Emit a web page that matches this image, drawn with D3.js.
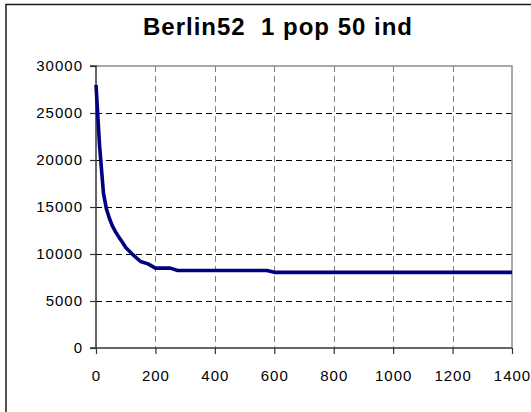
<!DOCTYPE html>
<html>
<head>
<meta charset="utf-8">
<script src="https://cdn.jsdelivr.net/npm/d3@7"></script>
<style>
  html, body { margin: 0; padding: 0; background: #fff; }
  svg { display: block; }
  text { font-family: "Liberation Sans", Arial, sans-serif; fill: #000; }
</style>
</head>
<body>
<svg id="chart" width="531" height="412"></svg>
<script>
const titleText = "Berlin52  1 pop 50 ind";
const generations = [0, 12, 25, 35, 45, 55, 65, 75, 90, 100, 125, 150, 175, 200, 250, 275, 575, 600, 1400];
const bestLength = [28000, 21500, 16500, 14800, 13800, 13000, 12400, 11900, 11200, 10700, 9900, 9200, 8950, 8500, 8500, 8250, 8250, 8050, 8050];
const xTicks = [0, 200, 400, 600, 800, 1000, 1200, 1400];
const yTicks = [0, 5000, 10000, 15000, 20000, 25000, 30000];

const svg = d3.select("#chart");
const m = { left: 96, right: 512, top: 66, bottom: 348 };

// outer chart border (extends beyond the window to the right/bottom)
svg.append("rect")
  .attr("x", 6).attr("y", 4.5)
  .attr("width", 600).attr("height", 500)
  .attr("fill", "#fff")
  .attr("stroke", "#1a1a1a").attr("stroke-width", 1.5);

// title
svg.append("text")
  .attr("x", 278).attr("y", 35)
  .attr("text-anchor", "middle")
  .attr("font-size", 24).attr("font-weight", "bold")
  .attr("letter-spacing", "1px")
  .style("white-space", "pre")
  .attr("xml:space", "preserve")
  .text(titleText);

const x = d3.scaleLinear().domain([0, 1400]).range([m.left, m.right]);
const y = d3.scaleLinear().domain([0, 30000]).range([m.bottom, m.top]);

// horizontal grid (black dashed)
svg.append("g").selectAll("line")
  .data(yTicks.filter(d => d > 0 && d < 30000))
  .join("line")
  .attr("x1", m.left).attr("x2", m.right)
  .attr("y1", d => Math.round(y(d)) + 0.5).attr("y2", d => Math.round(y(d)) + 0.5)
  .attr("stroke", "#000").attr("stroke-width", 1)
  .attr("stroke-dasharray", "6,4");

// vertical grid (gray dashed)
svg.append("g").selectAll("line")
  .data(xTicks.filter(d => d > 0 && d < 1400))
  .join("line")
  .attr("x1", d => Math.round(x(d)) + 0.5).attr("x2", d => Math.round(x(d)) + 0.5)
  .attr("y1", m.top).attr("y2", m.bottom)
  .attr("stroke", "#808080").attr("stroke-width", 1)
  .attr("stroke-dasharray", "6,4");

// top and right frame (gray)
svg.append("path")
  .attr("d", `M${m.left},${m.top}H${m.right}V${m.bottom}`)
  .attr("fill", "none").attr("stroke", "#8c8c8c").attr("stroke-width", 1.5);

// axes
const yAxis = d3.axisLeft(y).tickValues(yTicks).tickSize(6).tickPadding(7).tickFormat(d3.format("d"));
const gy = svg.append("g").attr("transform", `translate(${m.left},0)`).call(yAxis);
const xAxis = d3.axisBottom(x).tickValues(xTicks).tickSize(6).tickPadding(16).tickFormat(d3.format("d"));
const gx = svg.append("g").attr("transform", `translate(0,${m.bottom})`).call(xAxis);

[gx, gy].forEach(g => {
  g.select(".domain").attr("stroke", "#333").attr("stroke-width", 1.5);
  g.selectAll(".tick line").attr("stroke", "#333").attr("stroke-width", 1.2);
  g.selectAll(".tick text")
    .attr("font-family", "'Liberation Sans', Arial, sans-serif")
    .attr("font-size", 15)
    .attr("letter-spacing", "1px")
    .attr("fill", "#000");
});
gy.select(".domain").attr("d", `M-6,${m.bottom}H0V${m.top}H-6`);
gx.select(".domain").attr("d", `M${m.left},0H${m.right}`);

// line
const line = d3.line()
  .x((d, i) => x(generations[i]))
  .y(d => y(d));
svg.append("path")
  .datum(bestLength)
  .attr("d", line)
  .attr("fill", "none")
  .attr("stroke", "#000080")
  .attr("stroke-width", 3.6)
  .attr("stroke-linejoin", "round");
</script>
</body>
</html>
